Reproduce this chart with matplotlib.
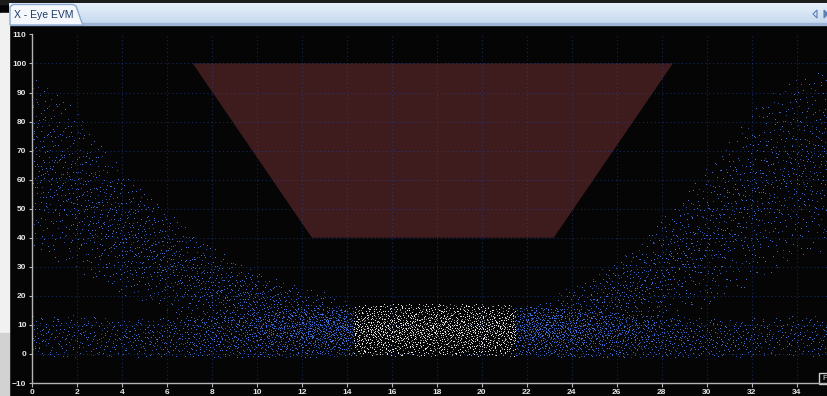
import numpy as np
import matplotlib
matplotlib.use("Agg")
import matplotlib.pyplot as plt
from matplotlib.patches import Rectangle, Polygon

# =====================================================
# Data
# =====================================================

x_ticks = list(range(0, 35, 2))
y_ticks = list(range(-10, 111, 10))

# mask (trapezoid) corners
mask_x = [7.15, 28.5, 23.2, 12.45]
mask_y = [100, 100, 40, 40]

# left arm of the eye (falling edge): envelope and points per x unit
left_x = [0, 1, 2, 3, 4, 5, 6, 7, 8, 9, 10, 11, 12, 13, 14]
left_lo = [36, 32, 28, 24, 20, 17, 14, 11, 9, 8, 7, 6, 5, 4, 4]
left_hi = [96, 92, 83, 73, 63, 56, 49, 43, 37, 32, 28, 25, 23, 21, 18]
left_n = [145, 145, 142, 140, 135, 130, 125, 120, 115, 110, 105, 95, 80, 65, 50]

# right arm of the eye (rising edge)
right_x = [22, 23, 24, 25, 26, 27, 28, 29, 30, 31, 32, 33, 34, 35, 35.4]
right_lo = [4, 4, 4, 5, 6, 8, 10, 13, 16, 20, 24, 28, 32, 35, 36]
right_hi = [17, 19, 23, 27, 32, 38, 46, 55, 64, 73, 83, 91, 96, 97, 97]
right_n = [45, 55, 70, 85, 100, 110, 115, 120, 125, 130, 135, 140, 145, 145, 145]

# bottom band
band_x = [0, 2, 4, 6, 8, 10, 12, 14, 16, 18, 20, 22, 24, 26, 28, 30, 32, 34, 35.4]
band_lo = [-1.5, -1.5, -1.5, -1.5, -1.5, -1.5, -1.5, -1, -1, -1, -1, -1, -1.5, -1.5, -1.5, -1.5, -1.5, -1.5, -1.5]
band_hi = [13, 13, 12, 12, 13, 14, 15, 16, 17, 17, 17, 16, 15, 14, 13, 12, 12, 13, 13]
band_n = [55, 50, 52, 68, 95, 130, 170, 215, 225, 230, 225, 215, 170, 130, 95, 68, 52, 50, 48]

# highlighted (white) window
white_from = 14.3
white_to = 21.5

# =====================================================
# Spread the points inside each envelope
# (Halton 2/3/5 points, thinned to the read density)
# =====================================================


def halton(idx, base):
    out = np.zeros(len(idx))
    f = 1.0 / base
    i = idx.astype(float).copy()
    while np.any(i > 0):
        out += f * (i % base)
        i = np.floor(i / base)
        f /= base
    return out


def cloud(xs, lo, hi, dens, start, peak):
    xs = np.asarray(xs, float)
    dens = np.asarray(dens, float)
    total = int(np.trapezoid(dens, xs))
    k = np.arange(start, start + total * 8)
    x = xs[0] + halton(k, 2) * (xs[-1] - xs[0])
    t = halton(k, 3)
    a = halton(k, 5)
    d = np.interp(x, xs, dens) / dens.max()
    s = 1 - peak * np.abs(2 * t - 1)
    keep = np.flatnonzero(a < d * s)[:total]
    x, t = x[keep], t[keep]
    y = np.interp(x, xs, lo) + t * (np.interp(x, xs, hi) - np.interp(x, xs, lo))
    return x, y


lx, ly = cloud(left_x, left_lo, left_hi, left_n, 1500, 0.75)
rx, ry = cloud(right_x, right_lo, right_hi, right_n, 40000, 0.75)
bx, by = cloud(band_x, band_lo, band_hi, band_n, 90000, 0.6)

all_x = np.concatenate([lx, rx, bx])
all_y = np.concatenate([ly, ry, by])
is_white = (all_x >= white_from) & (all_x <= white_to) & (all_y < 21)

# =====================================================
# Figure
# =====================================================

W, H = 828, 396
fig = plt.figure(figsize=(W / 100, H / 100), dpi=100, facecolor="#050505")

# window frame in pixel coordinates
bg = fig.add_axes([0, 0, 1, 1], zorder=0)
bg.set_xlim(0, W)
bg.set_ylim(H, 0)
bg.axis("off")

bg.add_patch(Rectangle((0, 0), W, 4, color="#1c1c1c"))
grad = np.linspace(0, 1, 20).reshape(-1, 1)
bg.imshow(grad, extent=(9, W, 23.5, 3.5), aspect="auto",
          cmap=matplotlib.colors.LinearSegmentedColormap.from_list("hdr", ["#e6effa", "#c8daf0"]),
          zorder=1)
bg.add_patch(Rectangle((9, 23), W - 9, 2, color="#9db4d6", zorder=2))
bg.add_patch(Rectangle((0, 13), 9, 320, color="#f1f1f1", zorder=2))
bg.add_patch(Rectangle((0, 333), 9, 63, color="#d2d2d2", zorder=2))

tab = Polygon([(10, 25), (10, 7), (13, 4.5), (73, 4.5), (76, 6), (82, 23), (84, 25)],
              closed=True, facecolor="#f4f8fd", edgecolor="#8ea9cf", lw=1, zorder=3)
bg.add_patch(tab)
bg.text(14, 15, "X - Eye EVM", fontsize=7.5, family="Liberation Sans",
        color="#1f3a66", va="center", ha="left", zorder=4)

bg.add_patch(Polygon([(817, 10), (817, 18), (813, 14)], closed=True,
                     facecolor="none", edgecolor="#5b80bb", lw=0.8, zorder=4))
bg.add_patch(Polygon([(824, 10), (824, 18), (828, 14)], closed=True,
                     facecolor="#5b80bb", edgecolor="#5b80bb", lw=0.8, zorder=4))

# =====================================================
# Plot area
# =====================================================

ax = fig.add_axes([32 / W, (H - 383) / H, (W - 32) / W, (383 - 26) / H], zorder=1)
ax.set_facecolor("none")
ax.set_xlim(0, 35.4)
ax.set_ylim(-10, 112.9)

ax.fill(mask_x, mask_y, color="#3e1b1d", zorder=0.5, lw=0)

grid_kw = dict(color="#2453c4", alpha=0.45, lw=0.8, linestyles=(0, (1, 2.5)), zorder=1)
ax.vlines(x_ticks[1:], -10, 110, **grid_kw)
ax.hlines([t for t in y_ticks if 0 <= t <= 100], 0, 35.4, **grid_kw)

blue = ~is_white
bxs, bys = all_x[blue], all_y[blue]
wxs, wys = all_x[is_white], all_y[is_white]
ax.plot(bxs[::3], bys[::3], ",", color="#2a4a9e", zorder=2)
ax.plot(np.delete(bxs, np.s_[::3]), np.delete(bys, np.s_[::3]), ",", color="#3f6bd6", zorder=2)
ax.plot(wxs[::3], wys[::3], ",", color="#8c8c8c", zorder=2)
ax.plot(np.delete(wxs, np.s_[::3]), np.delete(wys, np.s_[::3]), ",", color="#e4e4e4", zorder=2)

for side in ["top", "right"]:
    ax.spines[side].set_visible(False)
for side in ["left", "bottom"]:
    ax.spines[side].set_color("#b4b4b4")
    ax.spines[side].set_linewidth(1)
ax.spines["left"].set_bounds(-10, 110)

ax.set_xticks(x_ticks)
ax.set_yticks(y_ticks)
ax.tick_params(axis="x", colors="#b4b4b4", length=3, width=0.8, pad=1.5,
               labelcolor="#e6e6e6", labelsize=6)
ax.tick_params(axis="y", colors="#b4b4b4", length=2, width=0.8, pad=2,
               labelcolor="#e6e6e6", labelsize=6)
for lab in ax.get_xticklabels() + ax.get_yticklabels():
    lab.set_family("Liberation Sans")
    lab.set_fontweight("bold")

# small box at the bottom right corner
bg.add_patch(Rectangle((819.5, 372.5), 12, 11, facecolor="#050505",
                       edgecolor="#d0d0d0", lw=1, zorder=5))
bg.text(822, 378.5, "P", fontsize=6, color="#e0e0e0", va="center",
        ha="left", family="Liberation Sans", zorder=6)

fig.savefig("out.png", dpi=100, facecolor=fig.get_facecolor())
